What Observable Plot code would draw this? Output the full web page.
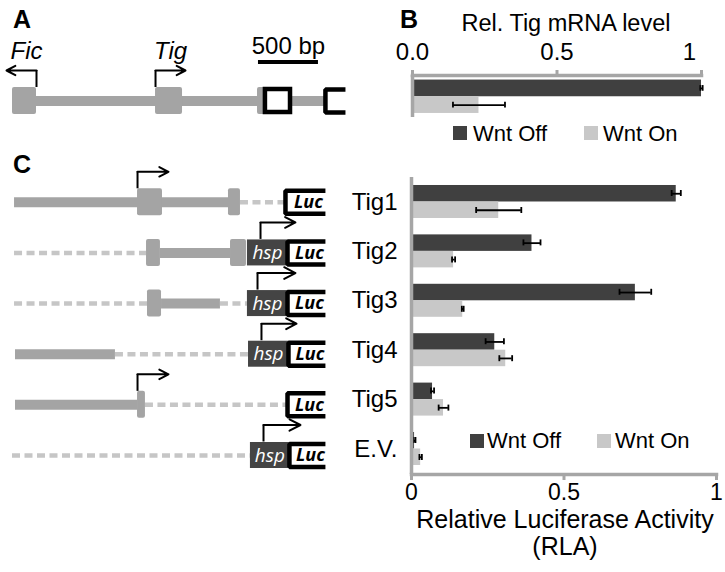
<!DOCTYPE html>
<html><head><meta charset="utf-8">
<script src="https://cdn.jsdelivr.net/npm/d3@7"></script>
<script src="https://cdn.jsdelivr.net/npm/@observablehq/plot@0.6"></script>
<style>
body{margin:0;background:#fff;}
#fig{position:relative;width:725px;height:572px;overflow:hidden;font-family:"Liberation Sans",Arial,sans-serif;color:#000;background:#fff;}
#fig .abs{position:absolute;white-space:nowrap;line-height:1;}
#fig .ctr{transform:translateX(-50%);}
#fig .sw{position:absolute;}
</style></head><body><div id="fig"></div>
<script>
// ---------- Panel B data ----------
const bSeries = ["Wnt Off", "Wnt On"];
const bValues = [1.0, 0.23];
const bErrors = [0.004, 0.09];
const bTicks = [0, 0.5, 1];
const bTickLabels = ["0.0", "0.5", "1"];

// ---------- Panel C data ----------
const constructs = ["Tig1", "Tig2", "Tig3", "Tig4", "Tig5", "E.V."];
const offValues = [0.868, 0.395, 0.734, 0.273, 0.069, 0.010];
const offErrors = [0.015, 0.028, 0.052, 0.030, 0.005, 0.003];
const onValues  = [0.286, 0.138, 0.168, 0.309, 0.105, 0.030];
const onErrors  = [0.074, 0.005, 0.003, 0.021, 0.016, 0.004];
const cTicks = [0, 0.5, 1];
const cTickLabels = ["0", "0.5", "1"];

// ---------- Schematics (positions in bp) ----------
const solidSegments = [
  {row: "A", start: 0, end: 2608},
  {row: "Tig1", start: 17, end: 1817},
  {row: "Tig2", start: 1233, end: 1817},
  {row: "Tig3", start: 1242, end: 1733},
  {row: "Tig4", start: 25, end: 858},
  {row: "Tig5", start: 25, end: 1042}
];
const dashedSegments = [
  {row: "Tig1", start: 1900, end: 2275},
  {row: "Tig2", start: 17, end: 1117},
  {row: "Tig3", start: 17, end: 1125},
  {row: "Tig3", start: 1733, end: 1958},
  {row: "Tig4", start: 858, end: 1967},
  {row: "Tig5", start: 1108, end: 2292},
  {row: "E.V.", start: 0, end: 1983}
];
const exons = [
  {row: "A", start: 0, end: 200},
  {row: "A", start: 1192, end: 1417},
  {row: "A", start: 2042, end: 2108},
  {row: "Tig1", start: 1042, end: 1250},
  {row: "Tig1", start: 1800, end: 1900},
  {row: "Tig2", start: 1117, end: 1233},
  {row: "Tig2", start: 1817, end: 1950},
  {row: "Tig3", start: 1125, end: 1242},
  {row: "Tig5", start: 1042, end: 1108}
];
const openBoxes = [{row: "A", start: 2108, end: 2317}];
const hspBoxes = [
  {row: "Tig2", start: 1958, end: 2292},
  {row: "Tig3", start: 1958, end: 2292},
  {row: "Tig4", start: 1967, end: 2300},
  {row: "E.V.", start: 1983, end: 2308}
];
const lucBoxes = [
  {row: "A", start: 2608, end: 2775, label: ""},
  {row: "Tig1", start: 2275, end: 2608, label: "Luc"},
  {row: "Tig2", start: 2292, end: 2608, label: "Luc"},
  {row: "Tig3", start: 2292, end: 2608, label: "Luc"},
  {row: "Tig4", start: 2300, end: 2608, label: "Luc"},
  {row: "Tig5", start: 2292, end: 2608, label: "Luc"},
  {row: "E.V.", start: 2308, end: 2608, label: "Luc"}
];
const tssArrows = [
  {row: "A", tss: 200, end: -50},
  {row: "A", tss: 1192, end: 1442},
  {row: "Tig1", tss: 1042, end: 1300},
  {row: "Tig2", tss: 2067, end: 2358},
  {row: "Tig3", tss: 2042, end: 2358},
  {row: "Tig4", tss: 2075, end: 2367},
  {row: "Tig5", tss: 1042, end: 1300},
  {row: "E.V.", tss: 2092, end: 2400}
];
const geneLabels = [
  {row: "A", pos: 117, name: "Fic"},
  {row: "A", pos: 1317, name: "Tig"}
];
const scaleBar = [{row: "A", start: 2050, end: 2550, label: "500 bp"}];

// ---------- styling ----------
const AXIS = "#a6a6a6", DARK = "#404040", LIGHT = "#c8c8c8", MAP = "#a4a4a4", DASH = "#c6c6c6", HSP = "#444444";
const FONT = "'Liberation Sans', Arial, sans-serif";
const fig = document.getElementById("fig");

function addPlot(svg, left, top) {
  svg.style.position = "absolute";
  svg.style.left = left + "px";
  svg.style.top = top + "px";
  fig.appendChild(svg);
}
function addText(text, left, top, size, opts = {}) {
  const d = document.createElement("div");
  d.className = "abs" + (opts.center ? " ctr" : "");
  d.textContent = text;
  d.style.left = left + "px";
  d.style.top = top + "px";
  d.style.fontSize = size + "px";
  if (opts.lh) d.style.lineHeight = opts.lh;
  if (opts.bold) d.style.fontWeight = "bold";
  fig.appendChild(d);
}
function addSwatch(color, left, top, size) {
  const d = document.createElement("div");
  d.className = "sw";
  d.style.left = left + "px"; d.style.top = top + "px";
  d.style.width = size + "px"; d.style.height = size + "px";
  d.style.background = color;
  fig.appendChild(d);
}

// ---------- Schematics A + C ----------
const rows = ["A", "", ...constructs];
const ry = r => rows.indexOf(r);
const ROWPX = (455 - 100.5) / 7;
const u = px => px / ROWPX;
const mid = d => (d.start + d.end) / 2;
const bracketPts = lucBoxes.flatMap((d, i) => {
  const y = ry(d.row), h = u(11.5);
  return [
    {id: i, x: d.end, y: y - h}, {id: i, x: d.start, y: y - h},
    {id: i, x: d.start, y: y + h}, {id: i, x: d.end, y: y + h}
  ];
});

const schem = Plot.plot({
  width: 395, height: 480, margin: 0,
  x: {domain: [-100, 3192], range: [0, 395], axis: null},
  y: {domain: [0, 7], range: [100.5, 455], axis: null},
  style: {background: "transparent", fontFamily: FONT, overflow: "visible"},
  marks: [
    Plot.ruleY(solidSegments, {y: d => ry(d.row), x1: "start", x2: "end", stroke: MAP, strokeWidth: 10}),
    Plot.ruleY(dashedSegments, {y: d => ry(d.row), x1: "start", x2: "end", stroke: DASH, strokeWidth: 4.5, strokeDasharray: "8 4.5"}),
    Plot.rect(exons, {x1: "start", x2: "end", y1: d => ry(d.row) - u(13.5), y2: d => ry(d.row) + u(13.5), fill: MAP, rx: 2}),
    Plot.rect(openBoxes, {x1: "start", x2: "end", y1: d => ry(d.row) - u(11.5), y2: d => ry(d.row) + u(11.5), fill: "white", stroke: "black", strokeWidth: 4.5}),
    Plot.rect(hspBoxes, {x1: "start", x2: "end", y1: d => ry(d.row) - u(13), y2: d => ry(d.row) + u(13), fill: HSP}),
    Plot.line(bracketPts, {x: "x", y: "y", z: "id", stroke: "black", strokeWidth: 4.5, strokeLinejoin: "miter", strokeLinecap: "butt"}),
    Plot.text(hspBoxes, {x: mid, y: d => ry(d.row), text: () => "hsp", fill: "white", fontStyle: "italic", fontFamily: "'Open Sans', sans-serif", fontSize: 19}),
    Plot.text(lucBoxes.filter(d => d.label), {x: mid, y: d => ry(d.row), text: "label", dx: 3, fill: "black", fontStyle: "italic", fontWeight: "bold", fontFamily: "'Open Sans', sans-serif", fontSize: 18}),
    Plot.ruleX(tssArrows, {x: "tss", y1: d => ry(d.row) - u(13.5), y2: d => ry(d.row) - u(30.5), stroke: "black", strokeWidth: 2}),
    Plot.arrow(tssArrows, {x1: "tss", x2: "end", y1: d => ry(d.row) - u(30.5), y2: d => ry(d.row) - u(30.5), stroke: "black", strokeWidth: 2, headLength: 11, headAngle: 55}),
    Plot.ruleY(scaleBar, {x1: "start", x2: "end", y: d => ry(d.row), dy: -39, stroke: "black", strokeWidth: 4}),
    Plot.text(scaleBar, {x: mid, y: d => ry(d.row), dy: -55, text: "label", fontSize: 24, fill: "black"}),
    Plot.text(geneLabels, {x: "pos", y: d => ry(d.row), dy: -50, text: "name", fontStyle: "italic", fontSize: 24, fill: "black"})
  ]
});
addPlot(schem, 0, 0);

// ---------- Panel B ----------
const bData = bSeries.map((s, i) => ({series: s, value: bValues[i], err: bErrors[i]}));
const bFmt = d => bTickLabels[bTicks.indexOf(d)];
const chartB = Plot.plot({
  width: 330, height: 150,
  marginTop: 75, marginBottom: 33, marginLeft: 17, marginRight: 24,
  x: {domain: [0, 1]},
  y: {domain: bSeries, paddingInner: 0, paddingOuter: 0.258, align: 0.53, round: false, axis: null},
  color: {domain: bSeries, range: [DARK, LIGHT]},
  style: {background: "transparent", fontFamily: FONT, overflow: "visible"},
  marks: [
    Plot.barX(bData, {x: "value", y: "series", fill: "series"}),
    Plot.ruleY(bData, {y: "series", x1: d => d.value - d.err, x2: d => d.value + d.err, stroke: "black", strokeWidth: 1.8}),
    Plot.tickX(bData, {y: "series", x: d => d.value - d.err, stroke: "black", strokeWidth: 1.8, insetTop: 5.5, insetBottom: 5.5}),
    Plot.tickX(bData, {y: "series", x: d => d.value + d.err, stroke: "black", strokeWidth: 1.8, insetTop: 5.5, insetBottom: 5.5}),
    Plot.ruleX([0], {stroke: AXIS, strokeWidth: 3.5}),
    Plot.frame({anchor: "top", stroke: AXIS, strokeWidth: 3.5}),
    Plot.axisX({anchor: "top", ticks: bTicks, tickFormat: () => "", tickSize: 6, stroke: AXIS, strokeWidth: 3, label: null}),
    Plot.axisX({anchor: "top", ticks: bTicks.slice(0, 2), tickFormat: bFmt, tickSize: 0, tickPadding: 16, fill: "black", fontSize: 24, label: null}),
    Plot.axisX({anchor: "top", ticks: bTicks.slice(2), tickFormat: bFmt, tickSize: 0, tickPadding: 16, dx: -12, fill: "black", fontSize: 24, label: null})
  ]
});
addPlot(chartB, 395, 0);

// ---------- Panel C chart ----------
const cData = constructs.map((c, i) => ({construct: c, off: offValues[i], offErr: offErrors[i], on: onValues[i], onErr: onErrors[i]}));
const HALF = 16.5;
const chartC = Plot.plot({
  width: 385, height: 402,
  marginTop: 7, marginBottom: 98, marginLeft: 71, marginRight: 9,
  x: {domain: [0, 1]},
  y: {domain: constructs, paddingInner: 0.332, paddingOuter: 0.172, align: 0.47, round: false},
  style: {background: "transparent", fontFamily: FONT, overflow: "visible"},
  marks: [
    Plot.barX(cData, {x: "off", y: "construct", fill: DARK, insetBottom: HALF}),
    Plot.barX(cData, {x: "on", y: "construct", fill: LIGHT, insetTop: HALF}),
    Plot.ruleY(cData, {y: "construct", x1: d => d.off - d.offErr, x2: d => d.off + d.offErr, dy: -HALF / 2, stroke: "black", strokeWidth: 1.8}),
    Plot.tickX(cData, {y: "construct", x: d => d.off - d.offErr, stroke: "black", strokeWidth: 1.8, insetTop: 5, insetBottom: 22}),
    Plot.tickX(cData, {y: "construct", x: d => d.off + d.offErr, stroke: "black", strokeWidth: 1.8, insetTop: 5, insetBottom: 22}),
    Plot.ruleY(cData, {y: "construct", x1: d => d.on - d.onErr, x2: d => d.on + d.onErr, dy: HALF / 2, stroke: "black", strokeWidth: 1.8}),
    Plot.tickX(cData, {y: "construct", x: d => d.on - d.onErr, stroke: "black", strokeWidth: 1.8, insetTop: 22, insetBottom: 5}),
    Plot.tickX(cData, {y: "construct", x: d => d.on + d.onErr, stroke: "black", strokeWidth: 1.8, insetTop: 22, insetBottom: 5}),
    Plot.ruleX([0], {stroke: AXIS, strokeWidth: 3.5}),
    Plot.frame({anchor: "bottom", stroke: AXIS, strokeWidth: 3.5}),
    Plot.axisX({anchor: "bottom", ticks: cTicks, tickFormat: d => cTickLabels[cTicks.indexOf(d)], tickSize: 6, tickPadding: 3, stroke: AXIS, strokeWidth: 3, fill: "black", fontSize: 23, label: null}),
    Plot.axisY({anchor: "left", tickSize: 0, tickPadding: 14, fill: "black", fontSize: 24, label: null})
  ]
});
addPlot(chartC, 340, 170);

// ---------- Text: panel letters, titles, legends ----------
addText("A", 13, 7, 25, {bold: true});
addText("B", 400, 7, 25, {bold: true});
addText("C", 13, 152, 25, {bold: true});
addText("Rel. Tig mRNA level", 566, 12, 23.5, {center: true});
addText("Relative Luciferase Activity", 565, 509, 25, {center: true, lh: 0.8});
addText("(RLA)", 565, 536, 25, {center: true, lh: 0.8});

addSwatch(DARK, 453, 126, 14);
addText(bSeries[0], 473, 123, 22);
addSwatch(LIGHT, 584, 126, 14);
addText(bSeries[1], 603, 123, 22);

addSwatch(DARK, 470, 434, 14);
addText(bSeries[0], 487, 430, 22);
addSwatch(LIGHT, 597, 434, 14);
addText(bSeries[1], 615, 430, 22);
</script></body></html>
